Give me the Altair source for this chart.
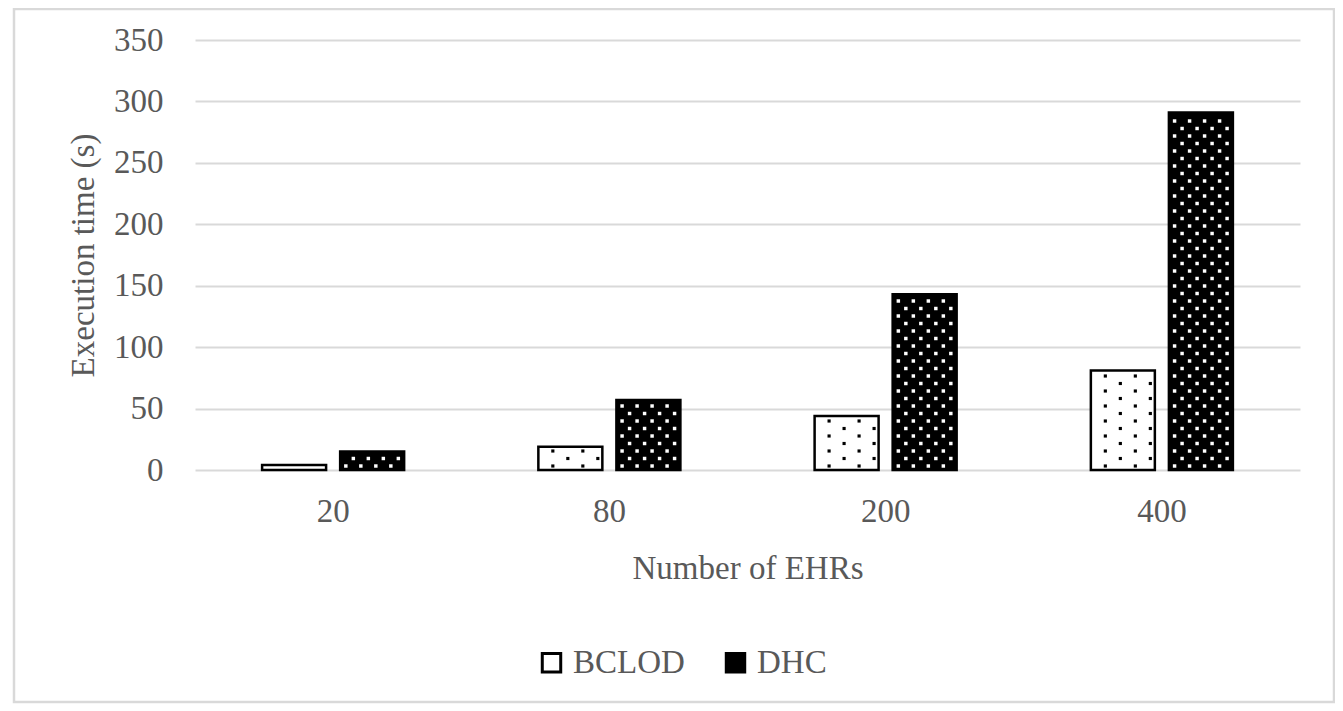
import altair as alt
import pandas as pd
import numpy as np

# ---- data ----
ehrs = ["20", "80", "200", "400"]
bclod = [4, 19, 44, 81]
dhc = [15, 57, 143, 291]
series = ["BCLOD", "DHC"]

rows = []
for e, b, d in zip(ehrs, bclod, dhc):
    rows.append({"ehr": e, "series": "BCLOD", "time": b})
    rows.append({"ehr": e, "series": "DHC", "time": d})
df = pd.DataFrame(rows)

# ---- layout / style constants ----
W, H = 1105, 430
YMAX = 350
PX = YMAX / H  # data units per pixel
FONT = "Liberation Serif"
TXT = "#595959"
GRID = "#d9d9d9"

# ---- fill-pattern texture (decoration only, derived from bar values) ----
def texture(values, centre, cols):
    pts = []
    for e, v in zip(ehrs, values):
        top_px = v / PX
        for k, cx in enumerate(cols):
            j = 0
            while True:
                ypx = 4 + j * 7.5
                if ypx > top_px - 4:
                    break
                if (j + k) % 2 == 0:
                    pts.append({"ehr": e, "dx": centre + cx, "y": ypx * PX})
                j += 1
    return pd.DataFrame(pts)

dots_b = texture(bclod, -39, [-17.5, -2.5, 12.5, 27.5])
dots_d = texture(dhc, 39, [-26.25 + 7.5 * k for k in range(8)])

x_enc = alt.X("ehr:N", sort=ehrs, title="Number of EHRs",
              scale=alt.Scale(paddingInner=0.435, paddingOuter=0.2175),
              axis=alt.Axis(labelAngle=0, ticks=False, domain=False,
                            labelPadding=25, titlePadding=24))
y_enc = alt.Y("time:Q", title="Execution time (s)",
              scale=alt.Scale(domain=[0, YMAX], nice=False),
              axis=alt.Axis(values=list(range(0, 351, 50)), ticks=False,
                            domain=False, labelPadding=32, titlePadding=13,
                            gridColor=GRID, gridWidth=2))

bars = alt.Chart(df).mark_bar(stroke="black", strokeWidth=2.5).encode(
    x=x_enc,
    xOffset=alt.XOffset("series:N", sort=series,
                        scale=alt.Scale(paddingInner=0.18, paddingOuter=0.09)),
    y=y_enc,
    fill=alt.Fill("series:N", sort=series,
                  scale=alt.Scale(domain=series, range=["white", "black"]),
                  legend=alt.Legend(title=None, orient="none", direction="horizontal",
                                    legendX=340, legendY=606,
                                    symbolType="square", symbolSize=340,
                                    symbolStrokeColor="black", symbolStrokeWidth=3,
                                    labelFont=FONT, labelFontSize=33, labelColor=TXT,
                                    columnPadding=34, labelOffset=5)),
)

off_scale = alt.Scale(domain=[-78, 78], range=[0, 156])

dot_b_layer = alt.Chart(dots_b).mark_square(size=10, color="black", opacity=1).encode(
    x=alt.X("ehr:N", sort=ehrs),
    xOffset=alt.XOffset("dx:Q", scale=off_scale),
    y=alt.Y("y:Q"),
)
dot_d_layer = alt.Chart(dots_d).mark_square(size=12, color="white", opacity=1).encode(
    x=alt.X("ehr:N", sort=ehrs),
    xOffset=alt.XOffset("dx:Q", scale=off_scale),
    y=alt.Y("y:Q"),
)

frame_df = pd.DataFrame({"k": [0]})
frame = alt.Chart(frame_df).mark_rect(fill=None, stroke=GRID, strokeWidth=2.5).encode(
    x=alt.value(-181), x2=alt.value(1139), y=alt.value(-31), y2=alt.value(662)
)

chart = alt.layer(bars, dot_b_layer, dot_d_layer, frame).resolve_scale(
    xOffset="independent"
).properties(
    width=W, height=H,
    autosize=alt.AutoSizeParams(type="none"),
    padding={"left": 187, "top": 32, "right": 35, "bottom": 234},
).configure(font=FONT).configure_view(stroke=None).configure_axis(
    labelFont=FONT, titleFont=FONT, labelFontSize=33, titleFontSize=33,
    labelColor=TXT, titleColor=TXT, titleFontWeight="normal",
).configure_legend(
    labelFont=FONT, labelFontSize=33, labelColor=TXT,
)

chart.save("out.html", embed_options={"renderer": "svg", "actions": False})
